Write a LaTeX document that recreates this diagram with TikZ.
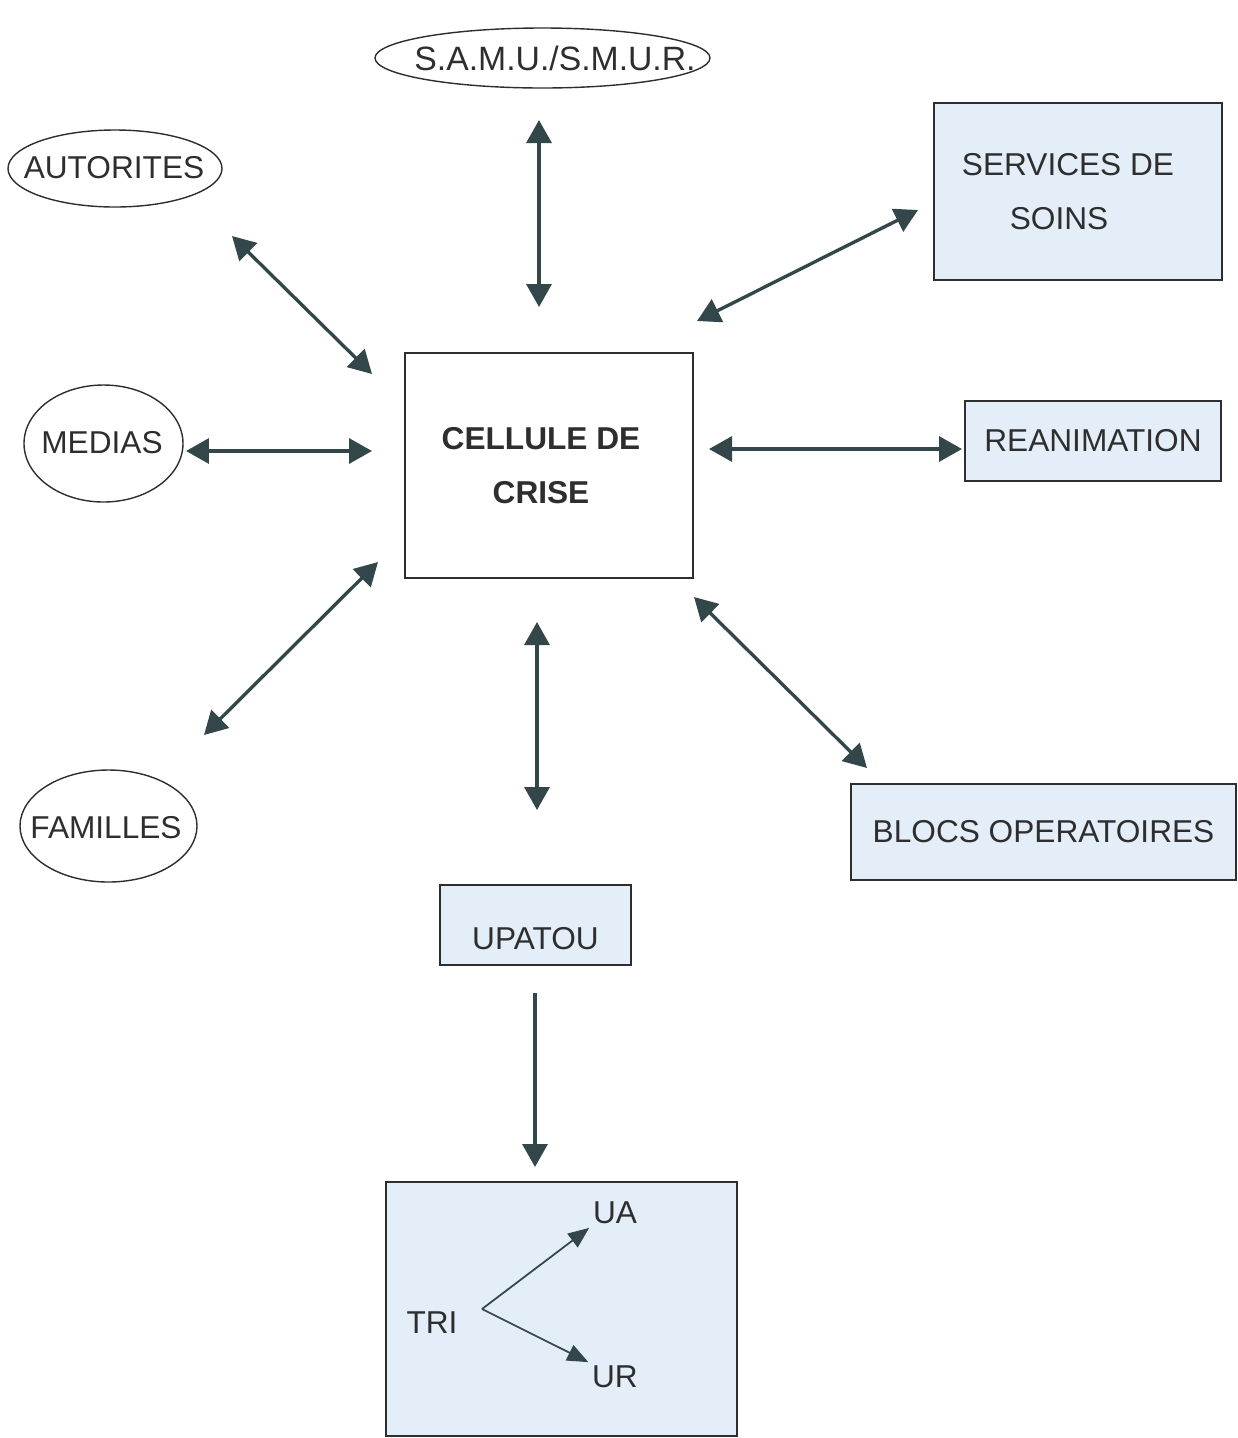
\documentclass[tikz,border=0pt]{standalone}
\usepackage{fontspec}
\setmainfont{Liberation Sans}
\usetikzlibrary{arrows.meta}
\definecolor{trait}{HTML}{33474A}
\definecolor{encre}{HTML}{2E2E2E}
\definecolor{bleu}{HTML}{E4EEF8}
\tikzset{
  ovale/.style={draw=encre,line width=0.8pt},
  boite/.style={draw=encre,line width=1.1pt,fill=bleu,inner sep=0pt,align=center},
  lien/.style={trait,line width=1.9pt,{Triangle[length=0.46cm,width=0.5cm]}-{Triangle[length=0.46cm,width=0.5cm]}},
  fleche/.style={trait,line width=1.9pt,-{Triangle[length=0.46cm,width=0.5cm]}},
  petite/.style={trait,line width=1pt,-{Triangle[length=0.42cm,width=0.34cm]}},
}
\begin{document}
\begin{tikzpicture}[x=0.02cm,y=-0.02cm,font=\fontsize{18}{31}\selectfont,text=encre]
\useasboundingbox (0,0) rectangle (1238,1438);
% partenaires exterieurs
\foreach \x/\y/\rx/\ry in {542.5/58/167.5/30, 115/168.5/107/38.5, 103.5/443.5/79.5/58.5, 108.5/826/88.5/56}
  \draw[ovale] (\x,\y) ellipse [x radius=\rx, y radius=\ry];
\node[font=\fontsize{19.2}{31}\selectfont] (samu) at (555,58) {S.A.M.U./S.M.U.R.};
\node (autorites) at (114,168) {AUTORITES};
\node (medias) at (102,443) {MEDIAS};
\node (familles) at (106,828) {FAMILLES};
% cellule et services
\node[boite,fill=white,minimum width=5.76cm,minimum height=4.5cm,font=\fontsize{18}{31}\selectfont\bfseries] (cellule) at (549,465.5) {CELLULE DE\rule{0.32cm}{0pt}\\CRISE\rule{0.32cm}{0pt}};
\node[boite,minimum width=5.76cm,minimum height=3.54cm] (services) at (1078,191.5) {SERVICES DE\rule{0.4cm}{0pt}\\SOINS\rule{0.76cm}{0pt}};
\node[boite,minimum width=5.12cm,minimum height=1.6cm] (reanimation) at (1093,441) {REANIMATION};
\node[boite,minimum width=7.7cm,minimum height=1.92cm] (blocs) at (1043.5,832) {BLOCS OPERATOIRES};
\node[boite,minimum width=3.82cm,minimum height=1.6cm,text height=0.97cm] (upatou) at (535.5,925) {UPATOU};
\node[boite,minimum width=7.02cm,minimum height=5.08cm] (tri-zone) at (561.5,1309) {};
\node (tri) at (432,1323) {TRI};
\node[inner sep=2pt] (ua) at (615,1213) {UA};
\node[inner sep=2pt] (ur) at (615,1377) {UR};
% bouts des fleches
\coordinate (samu-b) at (539,120);      \coordinate (cellule-n) at (539,307);
\coordinate (autorites-b) at (232,236); \coordinate (cellule-nw) at (372,374);
\coordinate (services-b) at (918,210);  \coordinate (cellule-ne) at (697,321);
\coordinate (medias-b) at (186,451);    \coordinate (cellule-w) at (372,451);
\coordinate (reanimation-b) at (962,449); \coordinate (cellule-e) at (709,449);
\coordinate (familles-b) at (204,735);  \coordinate (cellule-sw) at (378,562);
\coordinate (blocs-b) at (867,768);     \coordinate (cellule-se) at (694,597);
\coordinate (upatou-b) at (537,810);    \coordinate (cellule-s) at (537,622);
\coordinate (upatou-s) at (535,993);    \coordinate (tri-n) at (535,1167);
\coordinate (fourche) at (482,1309);
\foreach \a/\b in {samu-b/cellule-n,autorites-b/cellule-nw,services-b/cellule-ne,medias-b/cellule-w,
  reanimation-b/cellule-e,familles-b/cellule-sw,blocs-b/cellule-se,upatou-b/cellule-s}
  \draw[lien] (\a) -- (\b);
\draw[fleche] (upatou-s) -- (tri-n);
\draw[petite] (fourche) -- (ua.south west);
\draw[petite] (fourche) -- (ur.north west);
\end{tikzpicture}
\end{document}
